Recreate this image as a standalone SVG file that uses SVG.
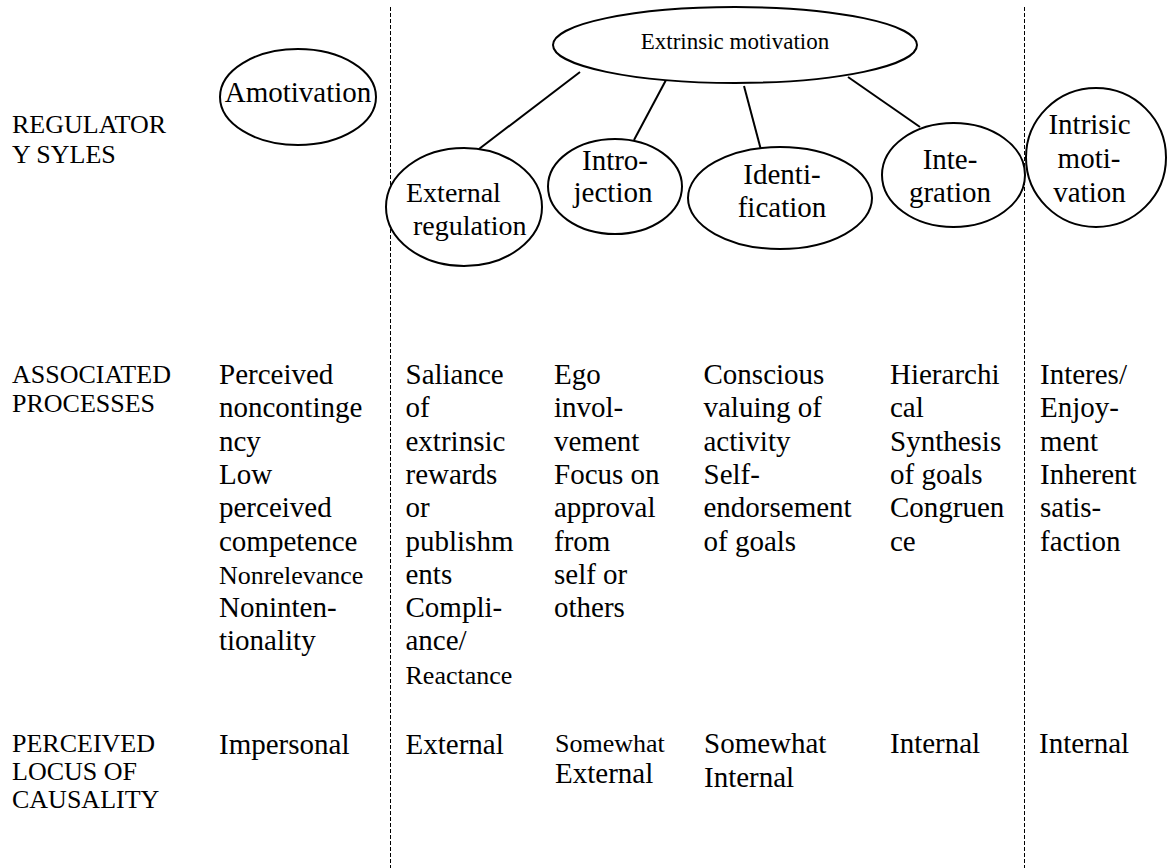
<svg xmlns="http://www.w3.org/2000/svg" width="1167" height="868" viewBox="0 0 1167 868" font-family="'Liberation Serif', 'DejaVu Serif', serif">
<style>
text{font-family:'Liberation Serif','DejaVu Serif',serif;fill:#000;font-size:29px}
.lbl{font-size:26px}
.sm{font-size:26px}
.em{font-size:23px}
.node ellipse{fill:#fff;stroke:#000;stroke-width:2}
.conn line{stroke:#000;stroke-width:2}
.div line{stroke:#000;stroke-width:1;stroke-dasharray:4 2}
.c{text-anchor:middle}
</style>
<rect width="1167" height="868" fill="#fff"/>
<g id="dividers" class="div">
<line x1="390.5" y1="7" x2="390.5" y2="868"/>
<line x1="1024.5" y1="7" x2="1024.5" y2="868"/>
</g>
<g id="connectors" class="conn">
<line x1="580" y1="72" x2="479" y2="149"/>
<line x1="666" y1="80" x2="634" y2="140"/>
<line x1="744" y1="86" x2="761" y2="150"/>
<line x1="848" y1="77" x2="920" y2="127"/>
</g>
<g id="node-extrinsic" class="node">
<ellipse cx="735" cy="45" rx="182" ry="38"/>
<text class="em c" x="735" y="49">Extrinsic motivation</text>
</g>
<g id="node-amotivation" class="node">
<ellipse cx="298" cy="97" rx="78" ry="48"/>
<text class="c" x="298" y="102">Amotivation</text>
</g>
<g id="node-external" class="node">
<ellipse cx="464" cy="207" rx="78" ry="59"/>
<text x="406" y="202" style="font-size:28px">External</text>
<text x="413" y="235" style="font-size:28px">regulation</text>
</g>
<g id="node-introjection" class="node">
<ellipse cx="615" cy="186.5" rx="67" ry="47.5"/>
<text class="c" x="615" y="170">Intro-</text>
<text class="c" x="613" y="202">jection</text>
</g>
<g id="node-identification" class="node">
<ellipse cx="780" cy="198" rx="92" ry="51"/>
<text class="c" x="782" y="184">Identi-</text>
<text class="c" x="782" y="217">fication</text>
</g>
<g id="node-integration" class="node">
<ellipse cx="953.5" cy="175" rx="71.5" ry="52"/>
<text class="c" x="950" y="169">Inte-</text>
<text class="c" x="950" y="202">gration</text>
</g>
<g id="node-intrinsic" class="node">
<ellipse cx="1096" cy="157.5" rx="70" ry="69.5"/>
<text class="c" x="1089.5" y="134">Intrisic</text>
<text class="c" x="1089" y="168">moti-</text>
<text class="c" x="1089.5" y="202">vation</text>
</g>
<g id="row-labels">
<text class="lbl" x="12" y="133">REGULATOR</text>
<text class="lbl" x="12" y="163">Y SYLES</text>
<text class="lbl" x="12" y="383">ASSOCIATED</text>
<text class="lbl" x="12" y="412">PROCESSES</text>
<text class="lbl" x="12" y="752">PERCEIVED</text>
<text class="lbl" x="12" y="780">LOCUS OF</text>
<text class="lbl" x="12" y="808">CAUSALITY</text>
</g>
<g id="processes">
<text x="219" y="384">Perceived</text>
<text x="219" y="417">noncontinge</text>
<text x="219" y="451">ncy</text>
<text x="219" y="484">Low</text>
<text x="219" y="517">perceived</text>
<text x="219" y="551">competence</text>
<text class="sm" x="219" y="584">Nonrelevance</text>
<text x="219" y="617">Noninten-</text>
<text x="219" y="650">tionality</text>

<text x="405.5" y="384">Saliance</text>
<text x="405.5" y="417">of</text>
<text x="405.5" y="451">extrinsic</text>
<text x="405.5" y="484">rewards</text>
<text x="405.5" y="517">or</text>
<text x="405.5" y="551">publishm</text>
<text x="405.5" y="584">ents</text>
<text x="405.5" y="617">Compli-</text>
<text x="405.5" y="650">ance/</text>
<text class="sm" x="405.5" y="684">Reactance</text>

<text x="554" y="384">Ego</text>
<text x="554" y="417">invol-</text>
<text x="554" y="451">vement</text>
<text x="554" y="484">Focus on</text>
<text x="554" y="517">approval</text>
<text x="554" y="551">from</text>
<text x="554" y="584">self or</text>
<text x="554" y="617">others</text>

<text x="703.5" y="384">Conscious</text>
<text x="703.5" y="417">valuing of</text>
<text x="703.5" y="451">activity</text>
<text x="703.5" y="484">Self-</text>
<text x="703.5" y="517">endorsement</text>
<text x="703.5" y="551">of goals</text>

<text x="890" y="384">Hierarchi</text>
<text x="890" y="417">cal</text>
<text x="890" y="451">Synthesis</text>
<text x="890" y="484">of goals</text>
<text x="890" y="517">Congruen</text>
<text x="890" y="551">ce</text>

<text x="1040" y="384">Interes/</text>
<text x="1040" y="417">Enjoy-</text>
<text x="1040" y="451">ment</text>
<text x="1040" y="484">Inherent</text>
<text x="1040" y="517">satis-</text>
<text x="1040" y="551">faction</text>
</g>
<g id="locus">
<text x="219" y="754">Impersonal</text>
<text x="405.5" y="754">External</text>
<text class="sm" x="555" y="752">Somewhat</text>
<text x="555" y="783">External</text>
<text x="704" y="753">Somewhat</text>
<text x="704" y="787">Internal</text>
<text x="890" y="753">Internal</text>
<text x="1039" y="753">Internal</text>
</g>
</svg>
